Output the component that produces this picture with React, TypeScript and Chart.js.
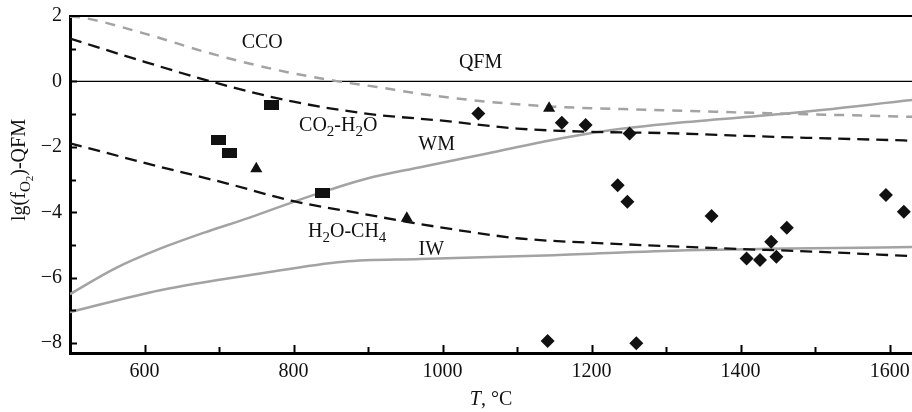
import React, { useEffect, useRef } from 'react';
import { Chart, registerables } from 'chart.js';

Chart.register(...registerables);

const FONT = '"Liberation Serif", "DejaVu Serif", serif';

// Temperature (°C) and curve values lg(fO2)-QFM
const ccoT = [500, 514, 599, 688, 778, 858, 912, 970, 1060, 1149, 1283, 1417, 1630];
const ccoV = [1.98, 1.96, 1.47, 0.86, 0.35, 0.01, -0.17, -0.38, -0.62, -0.77, -0.87, -0.96, -1.08];

const co2h2oT = [500, 600, 700, 800, 900, 1000, 1100, 1200, 1300, 1400, 1500, 1630];
const co2h2oV = [1.31, 0.6, -0.07, -0.62, -0.99, -1.2, -1.44, -1.54, -1.58, -1.66, -1.73, -1.81];

const h2och4T = [500, 621, 711, 800, 889, 952, 1037, 1104, 1238, 1372, 1507, 1630];
const h2och4V = [-1.89, -2.61, -3.12, -3.66, -4.03, -4.29, -4.6, -4.8, -4.97, -5.1, -5.21, -5.34];

const wmT = [500, 560, 620, 680, 740, 800, 850, 900, 970, 1060, 1149, 1216, 1328, 1462, 1630];
const wmV = [-6.5, -5.72, -5.12, -4.62, -4.17, -3.68, -3.3, -2.96, -2.62, -2.2, -1.78, -1.52, -1.24, -0.98, -0.57];

const iwT = [500, 621, 755, 867, 970, 1149, 1328, 1630];
const iwV = [-7.05, -6.38, -5.87, -5.51, -5.43, -5.31, -5.16, -5.06];

const qfmT = [500, 1630];
const qfmV = [0, 0];

// Sample points
const squareT = [771, 699, 714, 839];
const squareV = [-0.71, -1.78, -2.2, -3.41];

const triangleT = [750, 1143, 952];
const triangleV = [-2.67, -0.82, -4.18];

const diamondT = [1048, 1160, 1192, 1251, 1235, 1248, 1595, 1619, 1361, 1408, 1426, 1441, 1448, 1462, 1260, 1141];
const diamondV = [-0.98, -1.26, -1.33, -1.59, -3.17, -3.68, -3.47, -3.98, -4.11, -5.41, -5.46, -4.9, -5.36, -4.47, -8.0, -7.93];

// Axis ticks
const xTicks = [600, 700, 800, 900, 1000, 1100, 1200, 1300, 1400, 1500, 1600];
const yTicks = [-8, -7, -6, -5, -4, -3, -2, -1, 0, 1];

// Curve labels
type Part = [string, number];
const curveLabels: { parts: Part[]; t: number; v: number }[] = [
  { parts: [['CCO', 0]], t: 758, v: 1.02 },
  { parts: [['QFM', 0]], t: 1051, v: 0.41 },
  { parts: [['CO', 0], ['2', 1], ['-H', 0], ['2', 1], ['O', 0]], t: 860, v: -1.52 },
  { parts: [['WM', 0]], t: 992, v: -2.1 },
  { parts: [['H', 0], ['2', 1], ['O-CH', 0], ['4', 1]], t: 872, v: -4.76 },
  { parts: [['IW', 0]], t: 985, v: -5.3 },
];

const zip = (xs: number[], ys: number[]) => xs.map((x, i) => ({ x, y: ys[i] }));

const sizes = [20, 15, 11];
const offsets = [0, 5, 8];

function drawParts(ctx: CanvasRenderingContext2D, parts: Part[], x: number, y: number, center: boolean) {
  let total = 0;
  for (const [t, l] of parts) {
    ctx.font = `${sizes[l]}px ${FONT}`;
    total += ctx.measureText(t).width;
  }
  let cx = center ? x - total / 2 : x;
  for (const [t, l] of parts) {
    ctx.font = `${sizes[l]}px ${FONT}`;
    ctx.fillText(t, cx, y + offsets[l]);
    cx += ctx.measureText(t).width;
  }
}

const overlay = {
  id: 'overlay',
  afterDraw(chart: any) {
    const ctx: CanvasRenderingContext2D = chart.ctx;
    const { left, right, top, bottom } = chart.chartArea;
    const xs = chart.scales.x;
    const ys = chart.scales.y;
    ctx.save();
    ctx.strokeStyle = '#000';
    ctx.lineWidth = 2;
    ctx.beginPath();
    ctx.moveTo(left, top);
    ctx.lineTo(right, top);
    ctx.stroke();
    for (const v of xTicks) {
      const px = Math.round(xs.getPixelForValue(v)) + 0.5;
      const len = v % 200 === 0 ? 8 : 6;
      ctx.beginPath();
      ctx.moveTo(px, bottom);
      ctx.lineTo(px, bottom - len);
      ctx.stroke();
    }
    for (const v of yTicks) {
      const py = Math.round(ys.getPixelForValue(v)) + 0.5;
      const len = v % 2 === 0 ? 7 : 6;
      ctx.beginPath();
      ctx.moveTo(left, py);
      ctx.lineTo(left + len, py);
      ctx.stroke();
    }
    ctx.fillStyle = '#111';
    ctx.textBaseline = 'alphabetic';
    ctx.textAlign = 'left';
    for (const lb of curveLabels) {
      drawParts(ctx, lb.parts, xs.getPixelForValue(lb.t), ys.getPixelForValue(lb.v), true);
    }
    // x title
    ctx.font = `italic 20px ${FONT}`;
    const tW = ctx.measureText('T').width;
    ctx.font = `20px ${FONT}`;
    const restW = ctx.measureText(', °C').width;
    const startX = 491 - (tW + restW) / 2;
    ctx.font = `italic 20px ${FONT}`;
    ctx.fillText('T', startX, 405);
    ctx.font = `20px ${FONT}`;
    ctx.fillText(', °C', startX + tW, 405);
    // y title
    ctx.translate(25, 170);
    ctx.rotate(-Math.PI / 2);
    drawParts(ctx, [['lg(f', 0], ['O', 1], ['2', 2], [')-QFM', 0]], 0, 0, true);
    ctx.restore();
  },
};

export default function App() {
  const ref = useRef<HTMLCanvasElement>(null);
  useEffect(() => {
    if (!ref.current) return;
    const sq = document.createElement('canvas');
    sq.width = 15;
    sq.height = 10;
    const sctx = sq.getContext('2d')!;
    sctx.fillStyle = '#111';
    sctx.fillRect(0, 0, 15, 10);

    const gray = '#a3a3a3';
    const lineBase = { showLine: true, pointRadius: 0, cubicInterpolationMode: 'monotone', fill: false };
    const chart = new Chart(ref.current, {
      type: 'scatter',
      data: {
        datasets: [
          { label: 'squares', data: zip(squareT, squareV), pointStyle: sq as any, pointRadius: 7, backgroundColor: '#111', borderWidth: 0 },
          { label: 'triangles', data: zip(triangleT, triangleV), pointStyle: 'triangle', pointRadius: 7, backgroundColor: '#111', borderColor: '#111', borderWidth: 0 },
          { label: 'diamonds', data: zip(diamondT, diamondV), pointStyle: 'rectRot', pointRadius: 7, backgroundColor: '#111', borderColor: '#111', borderWidth: 0 },
          { ...lineBase, label: 'CCO', data: zip(ccoT, ccoV), borderColor: gray, borderWidth: 2.5, borderDash: [10, 8] } as any,
          { ...lineBase, label: 'CO2-H2O', data: zip(co2h2oT, co2h2oV), borderColor: '#111', borderWidth: 2.3, borderDash: [12, 7] } as any,
          { ...lineBase, label: 'H2O-CH4', data: zip(h2och4T, h2och4V), borderColor: '#111', borderWidth: 2.3, borderDash: [12, 7] } as any,
          { ...lineBase, label: 'WM', data: zip(wmT, wmV), borderColor: gray, borderWidth: 2.5 } as any,
          { ...lineBase, label: 'IW', data: zip(iwT, iwV), borderColor: gray, borderWidth: 2.5 } as any,
          { ...lineBase, label: 'QFM', data: zip(qfmT, qfmV), borderColor: '#000', borderWidth: 1.3 } as any,
        ],
      },
      options: {
        animation: false,
        responsive: false,
        devicePixelRatio: 1,
        layout: { autoPadding: false, padding: { top: 16, right: 0, left: 0, bottom: 0 } },
        plugins: { legend: { display: false }, tooltip: { enabled: false } },
        scales: {
          x: {
            type: 'linear',
            min: 500,
            max: 1630,
            afterFit: (s: any) => { s.height = 59; s.paddingRight = 0; s.paddingLeft = 0; },
            grid: { display: false, drawTicks: false },
            border: { display: true, color: '#000', width: 3 },
            ticks: {
              stepSize: 100,
              includeBounds: false,
              autoSkip: false,
              maxRotation: 0,
              padding: 7,
              color: '#111',
              font: { size: 20, family: FONT },
              callback: (v: any) => (Number(v) % 200 === 0 ? String(v) : ''),
            },
          },
          y: {
            type: 'linear',
            min: -8.3,
            max: 2,
            afterFit: (s: any) => { s.width = 70; s.paddingTop = 0; s.paddingBottom = 0; },
            grid: { display: false, drawTicks: false },
            border: { display: true, color: '#000', width: 3 },
            ticks: {
              stepSize: 1,
              includeBounds: false,
              autoSkip: false,
              padding: 8,
              color: '#111',
              font: { size: 20, family: FONT },
              callback: (v: any) => {
                const n = Number(v);
                if (Math.abs(n % 2) > 1e-9) return '';
                return n < 0 ? '\u2212' + Math.abs(n) : String(n);
              },
            },
          },
        },
      } as any,
      plugins: [overlay],
    });
    return () => chart.destroy();
  }, []);
  return (
    <div style={{ position: 'fixed', left: 0, top: 0, width: 912, height: 412, background: '#fff' }}>
      <canvas ref={ref} width={912} height={412} style={{ display: 'block' }} />
    </div>
  );
}
